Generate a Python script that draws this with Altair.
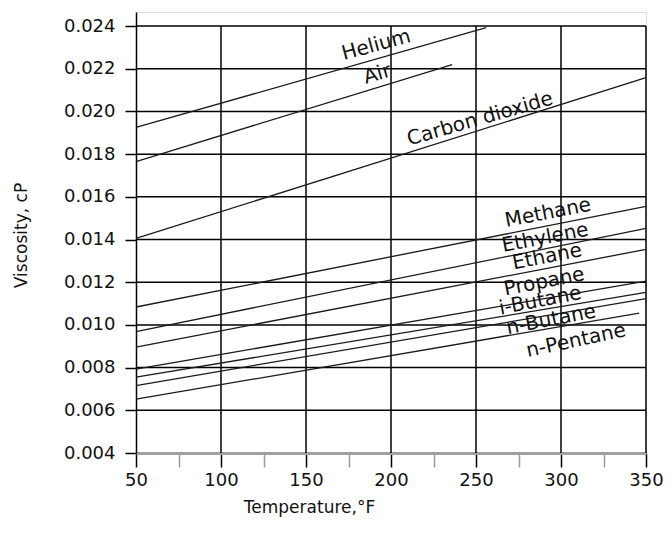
import altair as alt
import pandas as pd

# ---- data ----
gases = ["Helium", "Air", "Carbon dioxide", "Methane", "Ethylene", "Ethane",
         "Propane", "i-Butane", "n-Butane", "n-Pentane"]
t_start = [50, 50, 50, 50, 50, 50, 50, 50, 50, 50]
mu_start = [0.01925, 0.01765, 0.01405, 0.01084, 0.00969, 0.00896,
            0.00793, 0.00755, 0.00716, 0.00652]
t_end = [256, 236, 350, 350, 350, 350, 350, 350, 350, 346]
mu_end = [0.02393, 0.02220, 0.02158, 0.01555, 0.01452, 0.01354,
          0.01205, 0.01152, 0.01123, 0.01055]

label_t = [191.3, 191.9, 252.4, 292.3, 290.7, 291.8, 290.1, 287.8, 294.2, 308.8]
label_mu = [0.02311, 0.02175, 0.01965, 0.01525, 0.01408, 0.01319,
            0.01202, 0.01113, 0.01024, 0.00926]
label_angle = [345, 344, 344, 349, 349, 349, 349, 349, 349, 348]

x_ticks = [50, 75, 100, 125, 150, 175, 200, 225, 250, 275, 300, 325, 350]
x_grid = [100, 150, 200, 250, 300, 350]
y_ticks = [0.004, 0.006, 0.008, 0.010, 0.012, 0.014, 0.016, 0.018, 0.020, 0.022, 0.024]
y_grid = [0.006, 0.008, 0.010, 0.012, 0.014, 0.016, 0.018, 0.020, 0.022, 0.024]

FONT = "DejaVu Sans"

rows = []
for g, a, b, c, d in zip(gases, t_start, mu_start, t_end, mu_end):
    rows.append({"gas": g, "t": a, "mu": b})
    rows.append({"gas": g, "t": c, "mu": d})
lines_df = pd.DataFrame(rows)

labels_df = pd.DataFrame({"gas": gases, "t": label_t, "mu": label_mu, "angle": label_angle})
vgrid_df = pd.DataFrame({"t": x_grid, "y0": [y_ticks[0]] * len(x_grid), "y1": [y_ticks[-1]] * len(x_grid)})
hgrid_df = pd.DataFrame({"mu": y_grid, "x0": [x_ticks[0]] * len(y_grid), "x1": [x_ticks[-1]] * len(y_grid)})

xscale = alt.Scale(domain=[50, 350], nice=False, zero=False)
yscale = alt.Scale(domain=[0.004, 0.02466], nice=False, zero=False)

xaxis = alt.Axis(
    values=x_ticks, grid=False, labelFlush=False,
    labelExpr="datum.value % 50 == 0 ? datum.label : ''",
    domainColor="#a0a0a0", domainWidth=3,
    tickSize=14, tickWidth=1.5,
    tickColor=alt.condition("datum.value % 50 == 0", alt.value("#000000"), alt.value("#9a9a9a")),
    labelFont=FONT, labelFontSize=18, labelColor="#111", labelPadding=4,
    title="Temperature,°F", titleFont=FONT, titleFontSize=17, titleFontWeight="normal",
    titleColor="#111", titleX=173, titleY=54, titleAlign="center", titleBaseline="middle",
)
yaxis = alt.Axis(
    values=y_ticks, grid=False, format=".3f", labelFlush=False,
    domainColor="#000", domainWidth=1.5,
    tickSize=11, tickWidth=1.5, tickColor="#000",
    labelFont=FONT, labelFontSize=18, labelColor="#111", labelPadding=10,
    title="Viscosity, cP", titleFont=FONT, titleFontSize=17, titleFontWeight="normal",
    titleColor="#111", titleX=-115, titleY=223, titleAngle=270,
    titleAlign="center", titleBaseline="middle",
)

base = alt.Chart(lines_df)

lines = base.mark_line(color="#1a1a1a", strokeWidth=1.3).encode(
    x=alt.X("t:Q", scale=xscale, axis=xaxis),
    y=alt.Y("mu:Q", scale=yscale, axis=yaxis),
    detail="gas:N",
    order="t:Q",
)

vgrid = alt.Chart(vgrid_df).mark_rule(color="#000", strokeWidth=1.5).encode(
    x=alt.X("t:Q", scale=xscale),
    y=alt.Y("y0:Q", scale=yscale),
    y2="y1:Q",
)
hgrid = alt.Chart(hgrid_df).mark_rule(color="#000", strokeWidth=1.5).encode(
    y=alt.Y("mu:Q", scale=yscale),
    x=alt.X("x0:Q", scale=xscale),
    x2="x1:Q",
)

labels = alt.Chart(labels_df).mark_text(
    font=FONT, fontSize=20, color="#111", align="center", baseline="middle"
).encode(
    x=alt.X("t:Q", scale=xscale),
    y=alt.Y("mu:Q", scale=yscale),
    text="gas:N",
    angle=alt.Angle("angle:Q", scale=None),
)

chart = alt.layer(vgrid, hgrid, lines, labels).properties(
    width=510, height=441,
    autosize=alt.AutoSizeParams(type="none"),
    padding={"left": 128, "top": 4, "right": 18, "bottom": 74},
).configure_view(stroke=None).configure(background="white")

chart.save("out.html", embed_options={"renderer": "svg", "actions": False})
